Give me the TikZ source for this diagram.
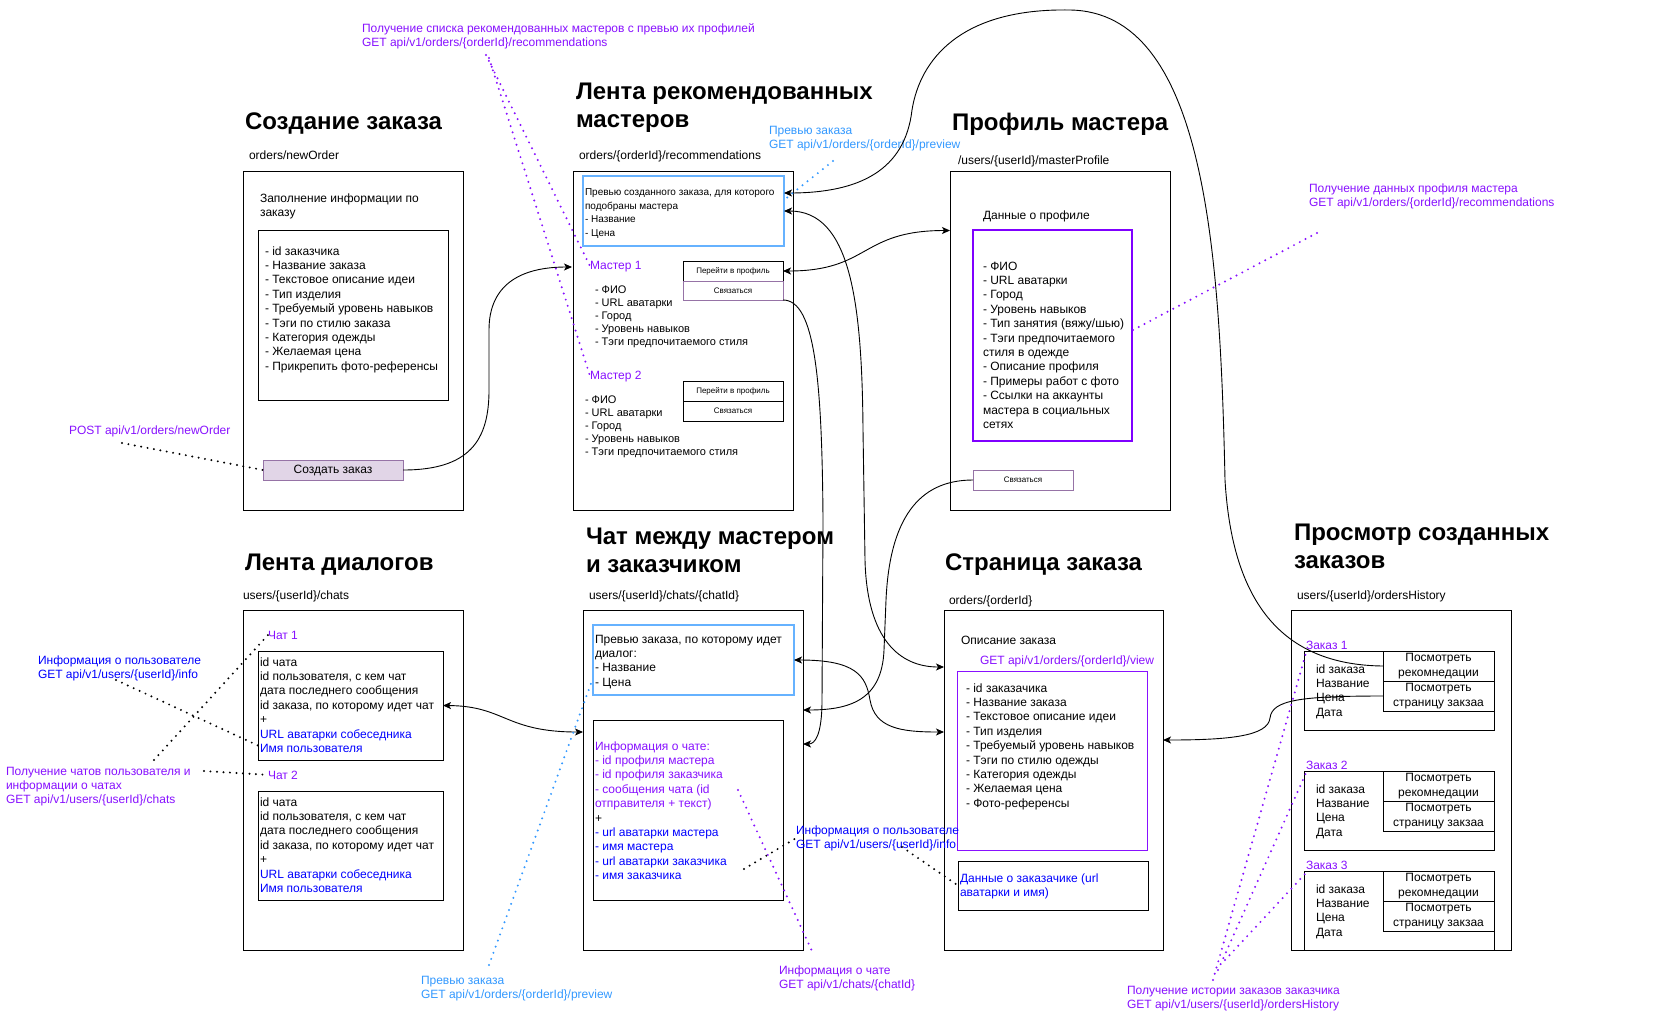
\documentclass[tikz,border=0pt]{standalone}
\usepackage{fontspec}
\setmainfont{Liberation Sans}
\usetikzlibrary{arrows.meta,calc}
\definecolor{vio}{RGB}{136,17,255}
\definecolor{vbox}{RGB}{127,0,255}
\definecolor{lb}{RGB}{51,153,255}
\definecolor{lbbox}{RGB}{102,178,255}
\definecolor{bl}{RGB}{0,0,255}
\definecolor{pfill}{RGB}{225,213,231}
\definecolor{pstroke}{RGB}{150,115,166}
\newcommand{\fsz}[2]{\fontsize{#1}{#2}\selectfont}
\newcommand{\ml}[1]{\vtop{\halign{##\hfil\cr#1\crcr}}}
\newcommand{\mc}[1]{\vtop{\halign{\hfil##\hfil\cr#1\crcr}}}
\newcommand{\cb}[1]{{\color{bl}#1}}
\newcommand{\cv}[1]{{\color{vio}#1}}
\begin{document}
\begin{tikzpicture}[x=1pt,y=-1pt,
 box/.style={draw=black,line width=1pt,inner sep=0pt,outer sep=0pt,anchor=north west},
 tx/.style={inner sep=0pt,outer sep=0pt,anchor=base west,font=\fsz{12}{14.4}},
 ttl/.style={tx,font=\fsz{24}{28.8}\bfseries},
 small/.style={font=\fsz{8}{9.6}},
 obtn/.style={box,minimum width=111pt,minimum height=30pt,font=\fsz{12}{14.4}},
 tip/.tip={Stealth[length=8pt,width=7pt,inset=2pt]},
 arr/.style={draw=black,line width=0.9pt,-tip},
 biarr/.style={draw=black,line width=0.9pt,tip-tip},
 dk/.style={line width=2.2pt,dash pattern=on 0pt off 6.5pt,line cap=round}
]
\fill[white] (0,0) rectangle (1653,1010);
\useasboundingbox (0,0) rectangle (1653,1010);

% ---------- main boxes ----------
\node[box,minimum width=220pt,minimum height=339pt] (b1) at (243,171) {};
\node[box,minimum width=220pt,minimum height=339pt] (b2) at (573,171) {};
\node[box,minimum width=220pt,minimum height=339pt] (b3) at (950,171) {};
\node[box,minimum width=220pt,minimum height=340pt] (b4) at (243,610) {};
\node[box,minimum width=220pt,minimum height=340pt] (b5) at (583,610) {};
\node[box,minimum width=219pt,minimum height=340pt] (b6) at (944,610) {};
\node[box,minimum width=220pt,minimum height=340pt] (b7) at (1291,610) {};

% ---------- titles ----------
\node[ttl] (t1) at (245,129) {Создание заказа};
\node[ttl] (t2) at (576,99) {\ml{Лента рекомендованных\cr мастеров}};
\node[ttl] (t3) at (952,130) {Профиль мастера};
\node[ttl] (t4) at (245,570) {Лента диалогов};
\node[ttl] (t5) at (586,544) {\ml{Чат между мастером\cr и заказчиком}};
\node[ttl] (t6) at (945,570) {Страница заказа};
\node[ttl] (t7) at (1294,540) {\ml{Просмотр созданных\cr заказов}};

% ---------- url labels ----------
\node[tx] (u1) at (249,159) {orders/newOrder};
\node[tx] (u2) at (579,159) {orders/\{orderId\}/recommendations};
\node[tx] (u3) at (958,164) {/users/\{userId\}/masterProfile};
\node[tx] (u4) at (243,599) {users/\{userId\}/chats};
\node[tx] (u5) at (589,599) {users/\{userId\}/chats/\{chatId\}};
\node[tx] (u6) at (949,604) {orders/\{orderId\}};
\node[tx] (u7) at (1297,599) {users/\{userId\}/ordersHistory};

% ---------- Создание заказа ----------
\node[tx] (fillin) at (260,202) {\ml{Заполнение информации по\cr заказу}};
\node[box,minimum width=190pt,minimum height=170pt] (in1) at (258,230) {};
\node[tx] (l1) at (265,255) {\ml{- id заказчика\cr - Название заказа\cr - Текстовое описание идеи\cr - Тип изделия\cr - Требуемый уровень навыков\cr - Тэги по стилю заказа\cr - Категория одежды\cr - Желаемая цена\cr - Прикрепить фото-референсы}};
\node[box,draw=pstroke,fill=pfill,minimum width=140pt,minimum height=20pt,font=\fsz{12}{14.4}] (create) at (263,460) {Создать заказ};

% ---------- Лента рекомендованных мастеров ----------
\node[box,draw=lbbox,line width=2.2pt,minimum width=201pt,minimum height=70pt] (prev1) at (583,176) {};
\node[tx,font=\fsz{10}{13.5}] (pv1t) at (585,195.5) {\ml{Превью созданного заказа, для которого\cr подобраны мастера\cr - Название\cr - Цена}};
\node[tx,text=vio] (m1) at (590,269) {Мастер 1};
\node[box,small,minimum width=100pt,minimum height=20pt] (go1) at (683,261) {Перейти в профиль};
\node[box,small,draw=pstroke,minimum width=100pt,minimum height=19pt] (call1) at (683,281) {Связаться};
\node[tx,font=\fsz{11}{13.2}] (m1l) at (595,293) {\ml{- ФИО\cr - URL аватарки\cr - Город\cr - Уровень навыков\cr - Тэги предпочитаемого стиля}};
\node[tx,text=vio] (m2) at (590,379) {Мастер 2};
\node[box,small,minimum width=100pt,minimum height=20pt] (go2) at (683,381) {Перейти в профиль};
\node[box,small,minimum width=100pt,minimum height=20pt] (call2) at (683,401) {Связаться};
\node[tx,font=\fsz{11}{13.2}] (m2l) at (585,403) {\ml{- ФИО\cr - URL аватарки\cr - Город\cr - Уровень навыков\cr - Тэги предпочитаемого стиля}};

% ---------- Профиль мастера ----------
\node[tx] (pdata) at (983,219) {Данные о профиле};
\node[box,draw=vbox,line width=2pt,minimum width=159pt,minimum height=211pt] (pbox) at (973,230) {};
\node[tx] (pl) at (983,270) {\ml{- ФИО\cr - URL аватарки\cr - Город\cr - Уровень навыков\cr - Тип занятия (вяжу/шью)\cr - Тэги предпочитаемого\cr стиля в одежде\cr - Описание профиля\cr - Примеры работ с фото\cr - Ссылки на аккаунты\cr мастера в социальных\cr сетях}};
\node[box,small,draw=pstroke,minimum width=100pt,minimum height=20pt] (pcall) at (973,470) {Связаться};

% ---------- Лента диалогов ----------
\node[tx,text=vio] (ch1) at (268,639) {Чат 1};
\node[box,minimum width=185pt,minimum height=109pt] (c1) at (258,651) {};
\node[tx] (c1t) at (260,666) {\ml{id чата\cr id пользователя, с кем чат\cr дата последнего сообщения\cr id заказа, по которому идет чат\cr +\cr \cb{URL аватарки собеседника}\cr \cb{Имя пользователя}}};
\node[tx,text=vio] (ch2) at (268,779) {Чат 2};
\node[box,minimum width=185pt,minimum height=109pt] (c2) at (258,791) {};
\node[tx] (c2t) at (260,806) {\ml{id чата\cr id пользователя, с кем чат\cr дата последнего сообщения\cr id заказа, по которому идет чат\cr +\cr \cb{URL аватарки собеседника}\cr \cb{Имя пользователя}}};

% ---------- Чат между мастером и заказчиком ----------
\node[box,draw=lbbox,line width=2.2pt,minimum width=201pt,minimum height=70pt] (prev2) at (593,625) {};
\node[tx] (pv2t) at (595,643) {\ml{Превью заказа, по которому идет\cr диалог:\cr - Название\cr - Цена}};
\node[box,minimum width=190pt,minimum height=180pt] (ib) at (593,720) {};
\node[tx] (ibt) at (595,750) {\ml{\cv{Информация о чате:}\cr \cv{- id профиля мастера}\cr \cv{- id профиля заказчика}\cr \cv{- сообщения чата (id}\cr \cv{отправителя + текст)}\cr +\cr \cb{- url аватарки мастера}\cr \cb{- имя мастера}\cr \cb{- url аватарки заказчика}\cr \cb{- имя заказчика}}};

% ---------- Страница заказа ----------
\node[tx] (odesc) at (961,644) {Описание заказа};
\node[tx,text=vio] (oview) at (980,664) {GET api/v1/orders/\{orderId\}/view};
\node[box,draw=vio,minimum width=190pt,minimum height=179pt] (obox) at (957,671) {};
\node[tx] (ol) at (966,692) {\ml{- id заказачика\cr - Название заказа\cr - Текстовое описание идеи\cr - Тип изделия\cr - Требуемый уровень навыков\cr - Тэги по стилю одежды\cr - Категория одежды\cr - Желаемая цена\cr - Фото-референсы}};
\node[box,minimum width=190pt,minimum height=49pt] (cust) at (958,861) {};
\node[tx,text=bl] (custt) at (960,882) {\ml{Данные о заказачике (url\cr аватарки и имя)}};

% ---------- Просмотр созданных заказов ----------
\node[tx,text=vio] (z1lab) at (1306,649) {Заказ 1};
\node[box,minimum width=190pt,minimum height=79pt] (z1) at (1304,651) {};
\node[obtn] (z1rec) at (1383,651) {\mc{Посмотреть\cr рекомнедации}};
\node[obtn] (z1page) at (1383,681) {\mc{Посмотреть\cr страницу закзаа}};
\node[tx] (z1t) at (1316,673) {\ml{id заказа\cr Название\cr Цена\cr Дата}};

\node[tx,text=vio] (z2lab) at (1306,769) {Заказ 2};
\node[box,minimum width=190pt,minimum height=79pt] (z2) at (1304,771) {};
\node[obtn] (z2rec) at (1383,771) {\mc{Посмотреть\cr рекомнедации}};
\node[obtn] (z2page) at (1383,801) {\mc{Посмотреть\cr страницу закзаа}};
\node[tx] (z2t) at (1316,793) {\ml{id заказа\cr Название\cr Цена\cr Дата}};

\node[tx,text=vio] (z3lab) at (1306,869) {Заказ 3};
\node[box,minimum width=190pt,minimum height=79pt] (z3) at (1304,871) {};
\node[obtn] (z3rec) at (1383,871) {\mc{Посмотреть\cr рекомнедации}};
\node[obtn] (z3page) at (1383,901) {\mc{Посмотреть\cr страницу закзаа}};
\node[tx] (z3t) at (1316,893) {\ml{id заказа\cr Название\cr Цена\cr Дата}};

% ---------- annotation labels ----------
\node[tx,text=vio] (lpost) at (69,434) {POST api/v1/orders/newOrder};
\node[tx,text=vio] (lrec) at (362,32) {\ml{Получение списка рекомендованных мастеров с превью их профилей\cr GET api/v1/orders/\{orderId\}/recommendations}};
\node[tx,text=lb] (lprev1) at (769,134) {\ml{Превью заказа\cr GET api/v1/orders/\{orderId\}/preview}};
\node[tx,text=vio] (lprof) at (1309,192) {\ml{Получение данных профиля мастера\cr GET api/v1/orders/\{orderId\}/recommendations}};
\node[tx,text=bl] (linfo1) at (38,664) {\ml{Информация о пользователе\cr GET api/v1/users/\{userId\}/info}};
\node[tx,text=vio] (lchats) at (6,775) {\ml{Получение чатов пользователя и\cr информации о чатах\cr GET api/v1/users/\{userId\}/chats}};
\node[tx,text=lb] (lprev2) at (421,984) {\ml{Превью заказа\cr GET api/v1/orders/\{orderId\}/preview}};
\node[tx,text=bl] (linfo2) at (796,834) {\ml{Информация о пользователе\cr GET api/v1/users/\{userId\}/info}};
\node[tx,text=vio] (lchat) at (779,974) {\ml{Информация о чате\cr GET api/v1/chats/\{chatId\}}};
\node[tx,text=vio] (lhist) at (1127,994) {\ml{Получение истории заказов заказчика\cr GET api/v1/users/\{userId\}/ordersHistory}};

% ---------- connectors ----------
\coordinate (m1in) at (572,267);
\draw[arr] (create.east) .. controls (470,470) and (489,440) .. (489,390) -- (489,330) .. controls (489,285) and (520,267) .. (m1in);
\draw[biarr] (go1.east) .. controls (870,271) and (860,230.5) .. ([yshift=110pt]b3.west);
\draw[biarr] (prev1.east) .. controls (850,211) and (862,300) .. (863,430) -- (865,560) .. controls (867,640) and (900,667) .. ([yshift=-57pt]b6.north west);
\draw[arr] (call1.south east) .. controls (815,300) and (822,380) .. (823,520) -- (822,700) .. controls (822,735) and (815,744) .. ([yshift=36pt]b5.east);
\draw[arr] (pcall.west) .. controls (925,480) and (890,510) .. (886,600) -- (884,650) .. controls (882,700) and (850,710) .. ([yshift=70pt]b5.east);
\draw[biarr] (prev2.east) .. controls (855,660) and (866,675) .. (870,700) .. controls (875,728) and (900,732) .. ([yshift=-122pt]b6.north west);
\draw[biarr] (c1.east) .. controls (505,706) and (505,732) .. ([yshift=48pt]b5.west);
\draw[arr] (z1page.west) .. controls (1300,696) and (1272,700) .. (1270,718) .. controls (1268,736) and (1230,740) .. ([yshift=40pt]b6.east);
\draw[arr] (z1rec.west) .. controls (1280,665) and (1232,600) .. (1225,480) .. controls (1220,250) and (1205,12) .. (1070,10) .. controls (960,8) and (920,60) .. (912,110) .. controls (905,170) and (860,193) .. ([yshift=18pt]prev1.east);

% ---------- dotted annotation lines ----------
\coordinate (dpost) at (122,443);
\draw[dk] (dpost) -- (create.west);
\coordinate (drec1) at (486,55);
\coordinate (drec2) at (489,58);
\draw[dk,vio] (drec1) -- (m1.west);
\draw[dk,vio] (drec2) -- (m2.west);
\coordinate (dprev1) at (833,161);
\draw[dk,lb] (dprev1) -- ([yshift=11pt]prev1.east);
\coordinate (dprof) at (1317,233);
\draw[dk,vio] (dprof) -- ([yshift=5pt]pbox.east);
\coordinate (dinfo1) at (116,680);
\draw[dk] (dinfo1) -- ([yshift=-40pt]c1.west);
\coordinate (dch1) at (154,760);
\coordinate (dch2) at (204,771);
\draw[dk] (dch1) -- (ch1.west);
\draw[dk] (dch2) -- (ch2.west);
\coordinate (dprev2) at (489,965);
\draw[dk,lb] (dprev2) -- ([yshift=-18pt]prev2.west);
\coordinate (dinf2a) at (744,869);
\draw[dk] (dinf2a) -- (linfo2.west);
\coordinate (dinf2b) at (902,847);
\draw[dk] (dinf2b) -- (cust.west);
\coordinate (dchat) at (738,790);
\draw[dk,vio] (dchat) -- ([shift={(34pt,12pt)}]lchat.north west);
\coordinate (dh1) at (1213,980);
\coordinate (dh2) at (1218,970);
\coordinate (dh3) at (1225,960);
\draw[dk,vio] (dh1) -- ([yshift=-8pt]z1lab.west);
\draw[dk,vio] (dh2) -- ([yshift=-8pt]z2lab.west);
\draw[dk,vio] (dh3) -- ([yshift=-8pt]z3lab.west);
\end{tikzpicture}
\end{document}
